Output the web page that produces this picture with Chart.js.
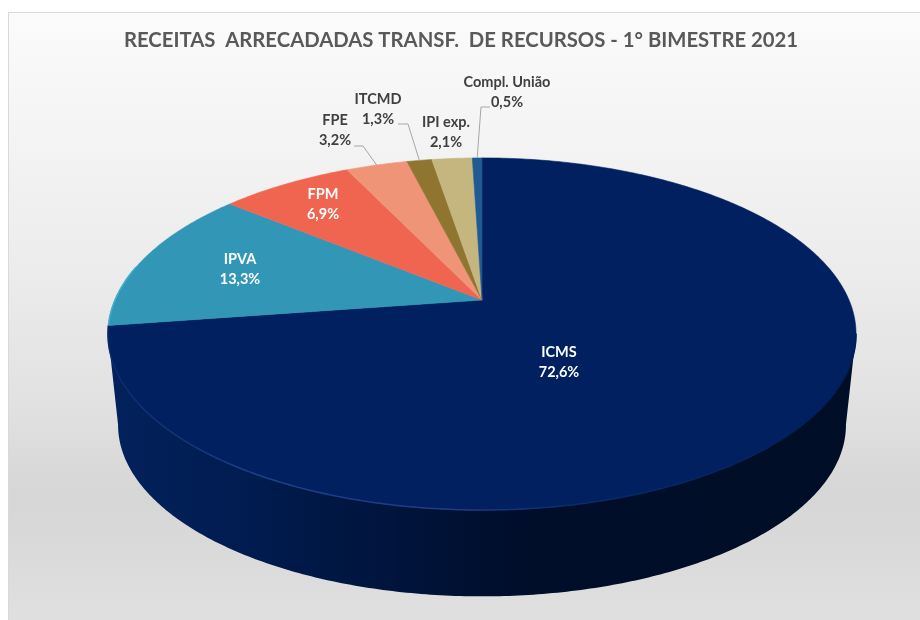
<!DOCTYPE html>
<html lang="pt-BR">

<head>
    <meta charset="UTF-8">
    <title>Receitas arrecadadas</title>
    <script src="https://cdn.jsdelivr.net/npm/chart.js"></script>
    <style>
        html, body { margin: 0; padding: 0; background: #fff; overflow: hidden; }
        #frame {
            position: absolute; left: 8px; top: 12px; width: 940px; height: 640px;
            border: 1px solid #d9d9d9; box-sizing: border-box;
            background: linear-gradient(to bottom, #fbfbfb 0%, #ececec 40%, #e2e2e2 60%, #d6d6d6 76%, #dfdfdf 94%, #e2e2e2 100%);
        }
        #chart { position: absolute; left: 0; top: 0; }
    </style>
</head>

<body>
    <div id="frame"></div>
    <canvas id="chart" width="920" height="620"></canvas>

    <script>
        const titleText = 'RECEITAS  ARRECADADAS TRANSF.  DE RECURSOS - 1° BIMESTRE 2021';
        const categories = ['ICMS', 'IPVA', 'FPM', 'FPE', 'ITCMD', 'IPI exp.', 'Compl. União'];
        const shares = [72.6, 13.3, 6.9, 3.2, 1.3, 2.1, 0.5];
        const shareLabels = ['72,6%', '13,3%', '6,9%', '3,2%', '1,3%', '2,1%', '0,5%'];
        const sliceColors = ['#01205f', '#3297b7', '#f06550', '#f09478', '#8f7530', '#c5b680', '#1f5a92'];

        // layout of the texts, not data
        const labelCenters = [[559, 362], [240, 269], [323, 204], [335, 130], [378, 109], [446, 132], [507, 92]];
        const labelColors = ['#fff', '#fff', '#fff', '#404040', '#404040', '#404040', '#404040'];
        // leader start and elbow, the end is taken on the rim of the slice
        const leaders = { 3: [[354, 146], [363, 146]], 4: [[398, 124], [408, 124]], 6: [[490, 107], [481, 107]] };

        // perspective of the tilted disc
        const cx = 482, topY = 300, radX = 367, radY = 169.5, persp = 0.193;
        const bottomScale = 0.973, bottomY = 392;
        const frontFrom = 11 * Math.PI / 180, frontTo = 169 * Math.PI / 180;

        function project(angle, r, scale, y0) {
            const u = r * Math.cos(angle), v = r * Math.sin(angle);
            const w = 1 - persp * v;
            return [cx + scale * radX * u / w, y0 + scale * radY * v / w];
        }

        function rimPoints(from, to, scale, y0) {
            const pts = [];
            const steps = Math.max(2, Math.ceil((to - from) * 90));
            for (let i = 0; i <= steps; i++) {
                pts.push(project(from + (to - from) * i / steps, 1, scale, y0));
            }
            return pts;
        }

        function hGradient(ctx, stops) {
            const g = ctx.createLinearGradient(108, 0, 856, 0);
            stops.forEach(s => g.addColorStop(s[0], s[1]));
            return g;
        }

        const tiltedPie = {
            id: 'tiltedPie',
            beforeDatasetsDraw(chart) {
                const ctx = chart.ctx;
                const arcs = chart.getDatasetMeta(0).data;

                // side wall, only the part facing the viewer
                arcs.forEach(arc => {
                    const from = Math.max(arc.startAngle, frontFrom);
                    const to = Math.min(arc.endAngle, frontTo);
                    if (to <= from) return;
                    const top = rimPoints(from, to, 1, topY);
                    const bottom = rimPoints(from, to, bottomScale, bottomY).reverse();
                    ctx.beginPath();
                    top.concat(bottom).forEach((p, i) => i ? ctx.lineTo(p[0], p[1]) : ctx.moveTo(p[0], p[1]));
                    ctx.closePath();
                    ctx.fillStyle = hGradient(ctx, [[0, '#03215c'], [0.18, '#001c50'], [0.38, '#00143c'], [0.55, '#000e2a'], [1, '#000d26']]);
                    ctx.fill();
                });

                // top face
                arcs.forEach((arc, i) => {
                    const apex = project(0, 0, 1, topY);
                    ctx.beginPath();
                    ctx.moveTo(apex[0], apex[1]);
                    rimPoints(arc.startAngle, arc.endAngle, 1, topY).forEach(p => ctx.lineTo(p[0], p[1]));
                    ctx.closePath();
                    ctx.fillStyle = sliceColors[i];
                    ctx.strokeStyle = sliceColors[i];
                    ctx.lineWidth = 0.6;
                    ctx.fill();
                    ctx.stroke();
                });

                // light bevel on the rim
                const bevel = rimPoints(frontFrom, arcs[0].endAngle, 1, topY);
                ctx.beginPath();
                bevel.forEach((p, i) => i ? ctx.lineTo(p[0], p[1]) : ctx.moveTo(p[0], p[1]));
                ctx.strokeStyle = hGradient(ctx, [[0, '#0a2a6a'], [0.2, '#1d3f88'], [0.48, '#1c3c84'], [0.6, '#0c2c6c'], [1, '#011c54']]);
                ctx.lineWidth = 1.5;
                ctx.stroke();
                const cyan = rimPoints(arcs[1].startAngle, arcs[1].startAngle + 0.35, 1, topY);
                ctx.beginPath();
                cyan.forEach((p, i) => i ? ctx.lineTo(p[0], p[1]) : ctx.moveTo(p[0], p[1]));
                ctx.strokeStyle = '#45aecf';
                ctx.lineWidth = 1.5;
                ctx.stroke();

                // the slices are done here, the library must not draw them round again
                return false;
            },
            afterDraw(chart) {
                const ctx = chart.ctx;
                const arcs = chart.getDatasetMeta(0).data;

                // leader lines
                ctx.strokeStyle = '#a6a6a6';
                ctx.lineWidth = 1;
                Object.keys(leaders).forEach(k => {
                    const arc = arcs[k];
                    const end = project((arc.startAngle + arc.endAngle) / 2, 1, 1, topY);
                    ctx.beginPath();
                    ctx.moveTo(leaders[k][0][0], leaders[k][0][1]);
                    ctx.lineTo(leaders[k][1][0], leaders[k][1][1]);
                    ctx.lineTo(end[0], end[1]);
                    ctx.stroke();
                });

                // data labels
                ctx.font = 'bold 14.5px Lato';
                ctx.textAlign = 'center';
                ctx.textBaseline = 'middle';
                categories.forEach((name, i) => {
                    ctx.fillStyle = labelColors[i];
                    ctx.fillText(name, labelCenters[i][0], labelCenters[i][1] - 10);
                    ctx.fillText(shareLabels[i], labelCenters[i][0], labelCenters[i][1] + 10);
                });
            }
        };

        new Chart(document.getElementById('chart'), {
            type: 'pie',
            data: {
                labels: categories,
                datasets: [{ data: shares, backgroundColor: sliceColors, borderWidth: 0 }]
            },
            options: {
                responsive: false,
                animation: false,
                layout: { padding: { top: 28, left: 2 } },
                plugins: {
                    legend: { display: false },
                    tooltip: { enabled: false },
                    title: {
                        display: true,
                        text: titleText,
                        color: '#595959',
                        font: { family: 'Lato', size: 20.3, weight: 'bold' },
                        padding: 0
                    }
                }
            },
            plugins: [tiltedPie]
        });
    </script>
</body>

</html>
